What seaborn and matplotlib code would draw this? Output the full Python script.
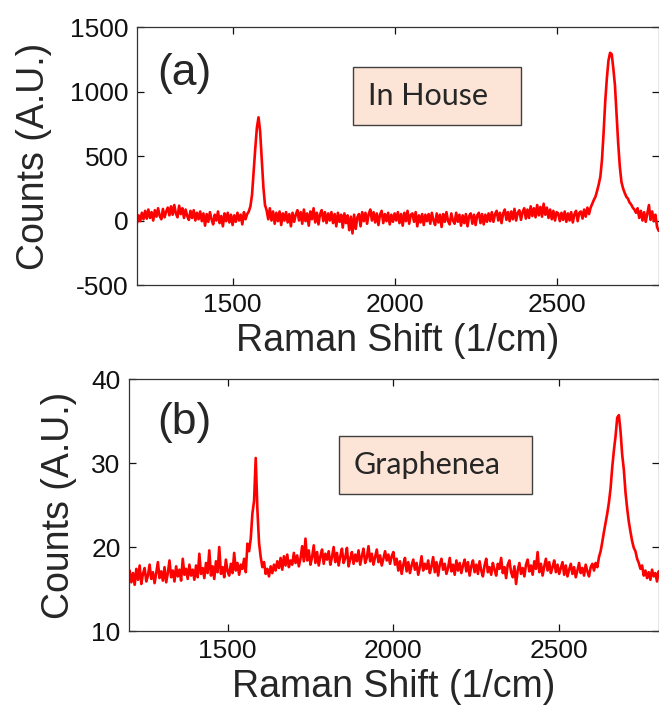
import numpy as np
import matplotlib
matplotlib.use("Agg")
import matplotlib.pyplot as plt
from matplotlib.patches import Rectangle
import seaborn as sns

sns.set_style("ticks")
plt.rcParams["font.family"] = ["Liberation Sans", "DejaVu Sans"]
plt.rcParams["axes.unicode_minus"] = False

# Raman shift grid (1/cm), sampled every 5 cm^-1 from 1205
shift_start = 1205
shift_step = 5

# (a) In House sample, counts (A.U.)
inhouse_counts = [
    -20, 40, -5, 60, 10, 75, 15, 85, 20, 65, 0, 80, 30, 95, 35, 10, 90, 25, 70, 100,
    40, 110, 45, 120, 55, 25, 115, 50, 95, 20, 85, 35, 5, 75, 20, 80, 0, 60, 10, 70,
    -5, 55, -40, 50, -10, 65, 10, -30, 45, 0, 70, -20, 35, -45, 55, -5, 60, -15, 45, -35,
    40, -10, 60, 0, 45, -30, 65, 10, 50, 70, 110, 200, 380, 560, 720, 800, 690, 480, 260, 120,
    80, 10, 95, 0, 70, -25, 60, -5, 70, -35, 55, 0, 65, -15, 50, -45, 60, -10, 45, 80,
    0, 65, -25, 85, -5, 55, -40, 70, 10, 95, -15, 60, -30, 50, 80, -5, 65, -20, 55, 0,
    65, -20, 50, -45, 60, -10, 45, -55, 55, -20, 40, -75, 30, -100, 45, -65, 25, 50, -45, 65,
    -5, 60, -25, 50, 85, 0, 65, -15, 55, -35, 45, 75, -20, 50, -5, 60, -30, 45, -10, 55,
    0, 65, -20, 50, -40, 60, -5, 75, -25, 45, 55, -10, 65, -45, 40, -15, 50, -35, 45, -5,
    50, -25, 60, 0, -35, 55, -15, 45, -50, 50, -10, 65, -5, -30, 55, 0, -25, 60, -10, 45,
    -40, 40, -20, 50, -45, 35, 55, -25, 45, -35, 40, 60, -20, 50, -30, 45, -10, 55, -5, 65,
    -10, 50, 75, 0, 60, -20, 55, 85, 5, 65, -5, 70, 10, 90, 0, 60, 80, 5, 65, 95,
    15, 85, 20, 110, 35, 95, 25, 120, 40, 105, 30, 130, 45, 100, 20, 85, 10, 75, 0, 65,
    55, -5, 60, 5, 70, -10, 55, 0, 65, -15, 50, 75, -5, 60, 70, 15, 85, 30, 100, 50,
    100, 130, 160, 185, 230, 280, 340, 470, 680, 920, 1100, 1240, 1300, 1290, 1180, 1050, 820, 600, 420, 300,
    250, 215, 185, 170, 140, 125, 100, 85, 60, 95, 20, 75, 0, 65, -10, 55, 120, 5, 70, -5,
    45, -50, -80,
]

# (b) Graphenea sample, counts (A.U.)
graphenea_counts = [
    17.2, 15.8, 16.9, 15.5, 17.4, 16.1, 17.8, 15.6, 16.8, 17.5, 15.9, 16.6, 17.9, 16.2, 17.0, 15.7, 16.9, 18.2, 16.3, 17.1,
    16.0, 17.6, 15.8, 16.9, 18.4, 16.4, 17.2, 15.9, 17.7, 16.5, 17.3, 16.0, 18.6, 16.7, 17.4, 16.2, 17.9, 16.6, 17.3, 16.1,
    17.8, 16.4, 19.2, 16.8, 17.5, 16.3, 18.1, 16.9, 19.6, 16.6, 17.7, 16.2, 18.3, 17.0, 20.0, 16.8, 17.6, 16.4, 18.5, 17.1,
    16.6, 18.0, 16.9, 19.3, 17.2, 18.1, 16.7, 17.9, 17.4, 18.6, 17.0, 20.4, 19.5, 21.0, 24.0, 25.5, 30.6, 24.5, 20.5, 18.8,
    17.6, 18.2, 16.8, 17.4, 16.5, 17.7, 16.9, 17.9, 17.2, 18.3, 17.5, 18.7, 17.3, 18.9, 17.8, 19.1, 17.6, 18.4, 17.9, 19.3,
    18.1, 19.0, 17.7, 18.6, 20.1, 18.3, 21.0, 18.4, 19.6, 17.9, 18.8, 20.2, 18.1, 19.4, 17.8, 18.9, 19.7, 18.0, 19.2, 18.5,
    19.5, 17.9, 18.8, 20.0, 18.2, 19.3, 17.8, 18.9, 19.8, 18.1, 18.7, 19.9, 17.7, 18.6, 19.4, 18.0, 19.1, 18.3, 19.6, 17.9,
    18.9, 19.8, 18.1, 18.7, 20.1, 18.3, 19.2, 17.9, 18.8, 19.7, 18.2, 19.0, 17.8, 18.6, 19.5, 18.4, 19.1, 18.0, 18.9, 19.4,
    17.9, 18.6, 17.2, 18.3, 16.8, 17.9, 18.7, 17.1, 18.2, 16.9, 17.8, 18.5, 17.3, 18.1, 16.7, 17.6, 18.9, 17.2, 18.0, 17.4,
    18.4, 16.9, 17.7, 18.8, 17.0, 18.2, 16.6, 17.9, 18.6, 17.3, 18.0, 16.8, 17.5, 18.7, 17.1, 17.9, 16.7, 18.4, 17.2, 18.1,
    16.9, 17.8, 18.5, 17.1, 18.2, 16.6, 17.7, 18.4, 17.0, 17.9, 16.8, 18.3, 17.2, 16.5, 17.8, 18.6, 17.0, 17.6, 16.7, 18.1,
    17.3, 16.6, 18.0, 17.4, 18.7, 16.9, 17.6, 16.3, 17.9, 18.4, 17.0, 16.4, 17.7, 15.6, 17.2, 18.1, 16.8, 17.5, 16.5, 17.9,
    18.5, 17.1, 17.8, 16.7, 18.3, 17.4, 19.4, 17.0, 18.0, 16.6, 17.7, 18.6, 17.2, 18.2, 16.9, 17.6, 18.4, 17.0, 17.9, 16.8,
    17.5, 18.2, 16.7, 17.8, 16.5, 17.3, 18.0, 16.8, 17.6, 16.4, 17.2, 18.1, 16.9, 17.5, 16.6, 17.9, 17.1, 16.5, 17.6, 18.0,
    17.2, 18.1, 17.6, 18.8, 19.5, 20.6, 21.8, 22.9, 24.0, 25.3, 27.0, 29.5, 31.5, 33.2, 35.4, 35.7, 33.8, 31.0, 29.2, 26.5,
    24.6, 23.0, 21.8, 20.7, 19.9, 19.5, 18.6, 18.1, 17.4, 17.8, 16.6, 17.2, 16.3, 17.0, 16.1, 17.3, 16.5, 16.9, 15.9, 17.1,
    16.4, 17.0, 16.2,
]

panel_tags = ["(a)", "(b)"]
sample_names = ["In House", "Graphenea"]
x_ticks = [1500, 2000, 2500]
y_ticks_a = [-500, 0, 500, 1000, 1500]
y_ticks_b = [10, 20, 30, 40]

line_color = "#ff0000"
box_face = "#fce4d6"
box_edge = "#404040"

fig = plt.figure(figsize=(6.59, 7.09), dpi=100)
ax_a = fig.add_axes([0.2079, 0.5980, 0.7921, 0.3639])
ax_b = fig.add_axes([0.1958, 0.1100, 0.8042, 0.3554])


def draw_panel(ax, counts, xlim, ylim, yticks, ypad, tag, tag_pos, name, box, text_pos):
    shift = np.arange(shift_start, shift_start + shift_step * len(counts), shift_step)
    sns.lineplot(x=shift, y=counts, ax=ax, color=line_color, linewidth=1.9,
                 estimator=None, sort=False)
    ax.set_xlim(*xlim)
    ax.set_ylim(*ylim)
    ax.set_xticks(x_ticks)
    ax.set_yticks(yticks)
    ax.tick_params(direction="in", length=5, width=0.9, top=True, right=True,
                   labelsize=19, pad=6, colors="#111111")
    for s in ax.spines.values():
        s.set_linewidth(0.9)
        s.set_color("#333333")
    ax.set_xlabel("Raman Shift (1/cm)", fontsize=27, labelpad=4)
    ax.set_ylabel("Counts (A.U.)", fontsize=27, labelpad=ypad)
    ax.text(tag_pos[0], tag_pos[1], tag, transform=ax.transAxes, fontsize=32,
            ha="left", va="center")
    ax.add_patch(Rectangle((box[0], box[1]), box[2], box[3], transform=ax.transAxes,
                           facecolor=box_face, edgecolor=box_edge, linewidth=1.0,
                           zorder=3))
    ax.text(text_pos[0], text_pos[1], name, transform=ax.transAxes, fontsize=22,
            family=["Lato", "DejaVu Sans"], ha="left", va="center", zorder=4)


draw_panel(ax_a, inhouse_counts, (1205, 2816), (-500, 1500), y_ticks_a, 13,
           panel_tags[0], (0.038, 0.818), sample_names[0],
           (0.413, 0.619, 0.3224, 0.227), (0.4425, 0.733))
draw_panel(ax_b, graphenea_counts, (1203, 2801), (10, 40), y_ticks_b, 10,
           panel_tags[1], (0.053, 0.829), sample_names[1],
           (0.3962, 0.5437, 0.3642, 0.2313), (0.4245, 0.659))

fig.savefig("out.png", dpi=100)
plt.close(fig)
